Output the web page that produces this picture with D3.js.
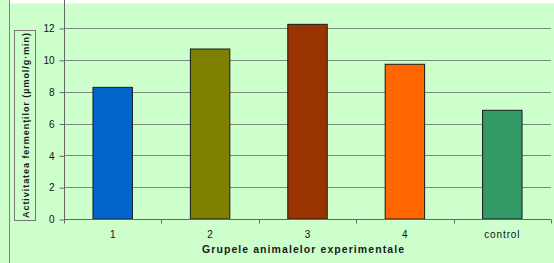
<!DOCTYPE html>
<html><head><meta charset="utf-8">
<script src="https://cdn.jsdelivr.net/npm/d3@7"></script>
<style>html,body{margin:0;padding:0;background:#ccffcc;overflow:hidden}</style>
</head><body>
<svg id="c" width="554" height="263"></svg>
<script>
const categories = ["1", "2", "3", "4", "control"];
const values = [8.27, 10.68, 12.23, 9.72, 6.83];
const colors = ["#0066cc", "#808000", "#993300", "#ff6600", "#339966"];
const yTicks = [0, 2, 4, 6, 8, 10, 12];
const yTitle = "Activitatea fermenţilor  (µmol/g·min)";
const xTitle = "Grupele animalelor experimentale";

const svg = d3.select("#c");
const W = 554, H = 263;
const left = 64, right = 551, bottom = 219;
svg.append("rect").attr("width", W).attr("height", H).attr("fill", "#ccffcc");
svg.append("rect").attr("x", 10).attr("y", 0).attr("width", W - 10).attr("height", 3.5).attr("fill", "#ffffff");
svg.append("line").attr("x1", 9.5).attr("x2", 9.5).attr("y1", 0).attr("y2", H).attr("stroke", "#808080");

const y = d3.scaleLinear().domain([0, 14]).range([bottom, bottom - 14 * (191 / 12)]);
const x = d3.scaleBand().domain(categories).range([left, right]).padding(0);

// gridlines
svg.append("g").selectAll("line").data(yTicks.filter(d => d > 0)).join("line")
  .attr("x1", left).attr("x2", right)
  .attr("y1", d => Math.round(y(d)) + 0.5).attr("y2", d => Math.round(y(d)) + 0.5)
  .attr("stroke", "#7a8a7a").attr("stroke-width", 1);

// bars
const bw = x.bandwidth() * 0.405;
svg.append("g").selectAll("rect").data(values).join("rect")
  .attr("x", (d, i) => x(categories[i]) + (x.bandwidth() - bw) / 2)
  .attr("y", d => y(d))
  .attr("width", bw)
  .attr("height", d => y(0) - y(d))
  .attr("fill", (d, i) => colors[i])
  .attr("stroke", "#1a1a1a").attr("stroke-width", 1);

// y axis
const ya = d3.axisLeft(y).tickValues(yTicks).tickSize(5).tickPadding(5).tickFormat(d3.format("d"));
const gy = svg.append("g").attr("transform", `translate(${left + 0.5},0.5)`).call(ya);
gy.select(".domain").remove();
gy.append("line").attr("x1", 0).attr("x2", 0).attr("y1", -5).attr("y2", bottom).attr("stroke", "#666");
gy.selectAll(".tick line").attr("stroke", "#666");
gy.selectAll("text").attr("font-family", "Liberation Sans, Arial, sans-serif").attr("font-size", 10).attr("fill", "#111");

// x axis
const xb = d3.scaleLinear().domain([0, categories.length]).range([left, right]);
const gx = svg.append("g").attr("transform", `translate(0,${bottom + 0.5})`);
gx.append("line").attr("x1", left).attr("x2", right).attr("stroke", "#666");
gx.selectAll("line.t").data(d3.range(categories.length + 1)).join("line").attr("class", "t")
  .attr("x1", d => Math.round(xb(d)) + 0.5).attr("x2", d => Math.round(xb(d)) + 0.5)
  .attr("y1", 0).attr("y2", 4).attr("stroke", "#666");
gx.selectAll("text").data(categories).join("text")
  .attr("x", d => x(d) + x.bandwidth() / 2).attr("y", 18)
  .attr("text-anchor", "middle")
  .attr("font-family", "Liberation Sans, Arial, sans-serif").attr("font-size", 10)
  .attr("letter-spacing", d => d.length > 1 ? 0.9 : 0)
  .attr("fill", "#111").text(d => d);

// x title
svg.append("text").attr("x", 202).attr("y", 253)
  .attr("font-family", "Liberation Sans, Arial, sans-serif").attr("font-weight", "bold").attr("font-size", 10.5)
  .attr("textLength", 202).attr("lengthAdjust", "spacing")
  .attr("fill", "#1a1a1a").text(xTitle);

// y title box
svg.append("rect").attr("x", 14.5).attr("y", 30.5).attr("width", 21).attr("height", 190)
  .attr("fill", "none").attr("stroke", "#777");
svg.append("text").attr("transform", "translate(29,218) rotate(-90)")
  .attr("x", 0).attr("y", 0)
  .attr("font-family", "Liberation Sans, Arial, sans-serif").attr("font-weight", "bold").attr("font-size", 9)
  .attr("textLength", 185).attr("lengthAdjust", "spacing")
  .attr("fill", "#1a1a1a").text(yTitle);
</script>
</body></html>
